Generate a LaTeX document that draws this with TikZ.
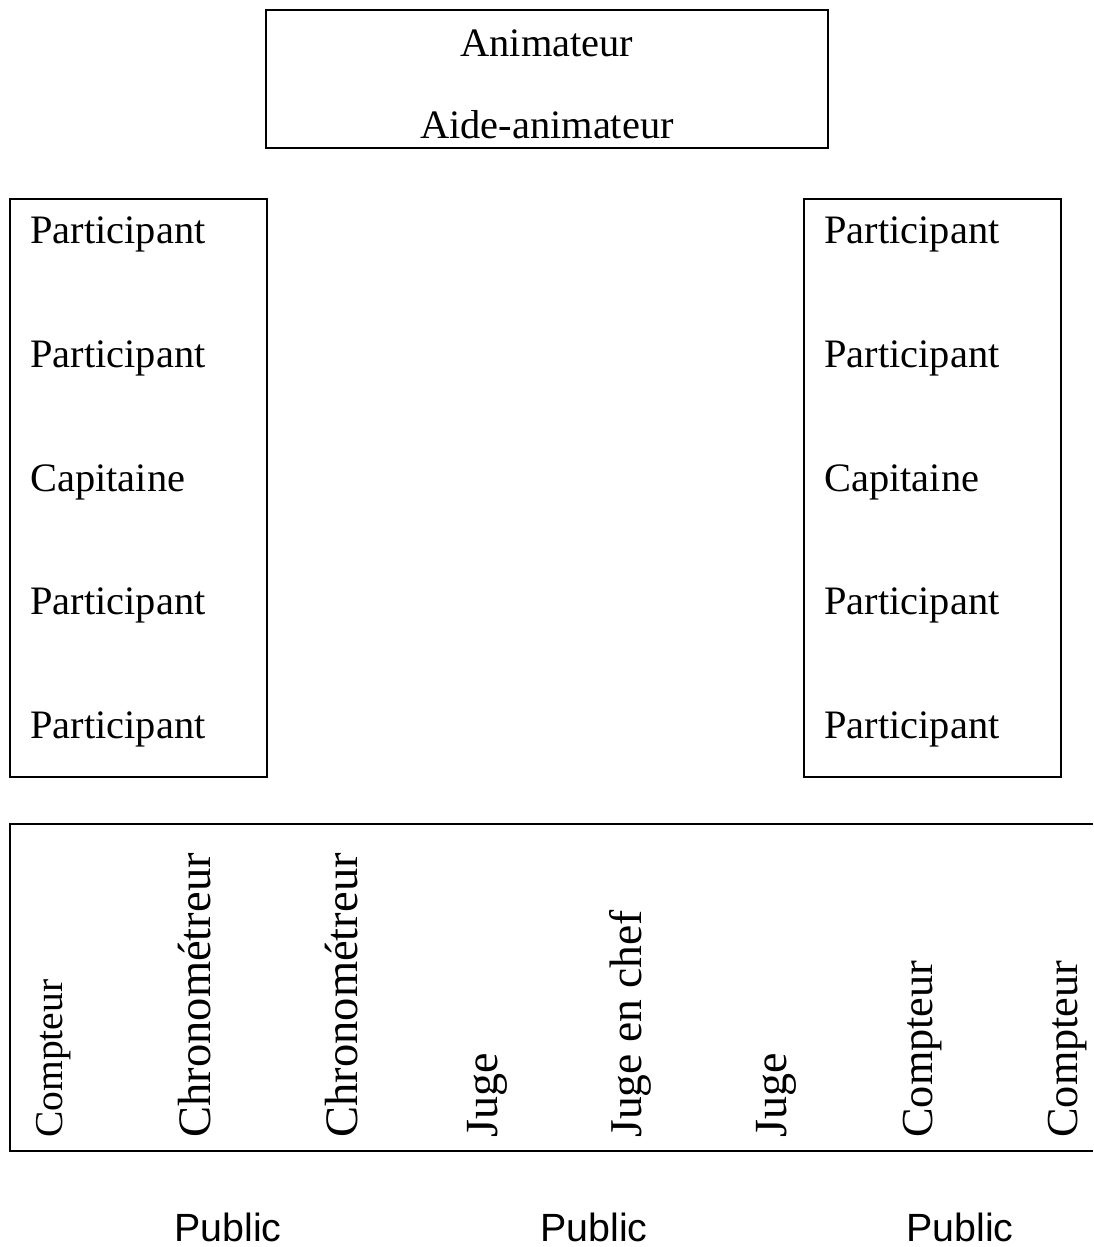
\documentclass[tikz,border=0pt]{standalone}
\usepackage{fontspec}
\setmainfont{Liberation Serif}
\newfontfamily\pubfont{Liberation Sans}
\tikzset{
   zone/.style={draw=black, line width=1.1pt},
   role/.style={inner sep=0pt, font=\fontsize{23}{27}\selectfont},
   vrole/.style={inner sep=0pt, rotate=90, anchor=base west,
      font=\fontsize{#1}{30}\selectfont},
   vrole/.default=26.2,
   public/.style={inner sep=0pt, anchor=base,
      font=\pubfont\fontsize{22.4}{27}\selectfont},
    }

\begin{document}
\begin{tikzpicture}[x=0.02cm, y=-0.02cm]
   \useasboundingbox (0,0) rectangle (1093,1247);
   % animateurs
   \draw[zone] (266,10) rectangle (828,148);
   \node[role, anchor=base] (anim) at (547,57) {Animateur};
   \node[role, anchor=base] (aide) at (547,138) {Aide-animateur};
   % les deux equipes
   \draw[zone] (10,199) rectangle (267,777);
   \draw[zone] (804,199) rectangle (1061,777);
   \foreach \y/\txt [count=\i] in {243.5/Participant, 367.5/Participant,
         491.5/Capitaine, 614.5/Participant, 738.5/Participant}{
      \node[role, anchor=base west] (g\i) at (30,\y) {\txt};
      \node[role, anchor=base west] (d\i) at (824,\y) {\txt};
   }
   % table des officiels
   \draw[zone] (1093,824) -- (10,824) -- (10,1151) -- (1093,1151);
   \node[vrole=22.5] (cpt1) at (62,1138) {Compteur};
   \node[vrole=26.5] (chr1) at (210,1138) {Chronométreur};
   \node[vrole=26.5] (chr2) at (357,1138) {Chronométreur};
   \node[vrole] (juge1) at (497,1138) {Juge};
   \node[vrole=25.9] (chef) at (641,1138) {Juge en chef};
   \node[vrole] (juge2) at (786,1138) {Juge};
   \node[vrole=25.2] (cpt2) at (932,1138) {Compteur};
   \node[vrole=25.2] (cpt3) at (1077,1138) {Compteur};
   % public
   \foreach \x [count=\i] in {228,594,960}
      \node[public] (pub\i) at (\x,1241) {Public};
\end{tikzpicture}
\end{document}
